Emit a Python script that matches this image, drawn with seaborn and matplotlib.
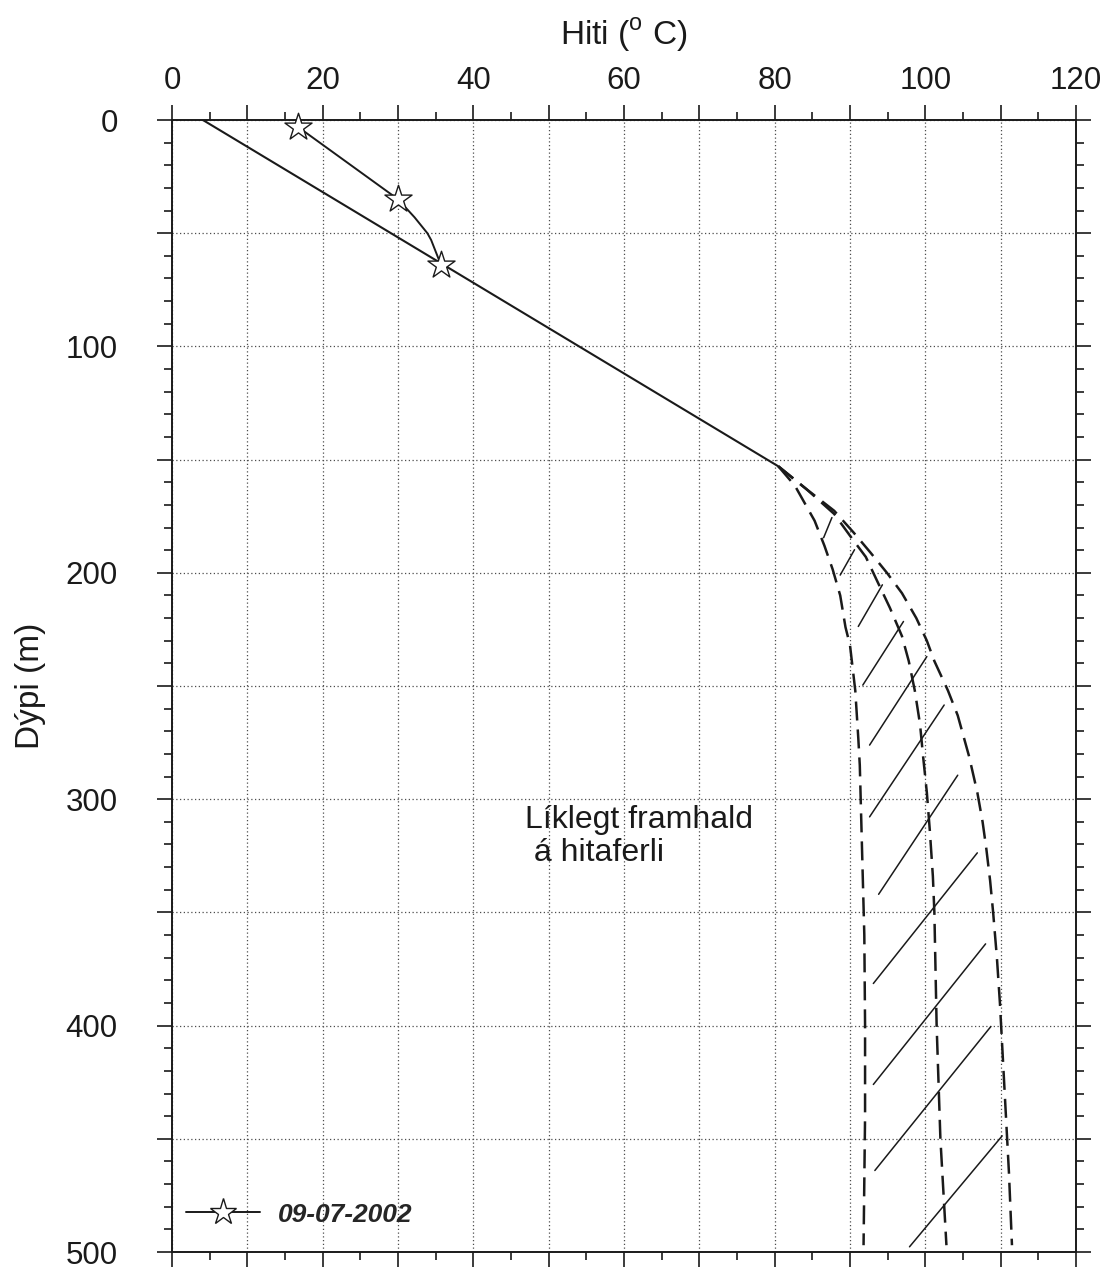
import numpy as np
import pandas as pd
import matplotlib
matplotlib.use('Agg')
import matplotlib.pyplot as plt
from matplotlib.ticker import MultipleLocator, FuncFormatter
from matplotlib.lines import Line2D
import seaborn as sns

# measured profile 09-07-2002 (stars at index 0, 1 and 5)
meas_temp = [16.7, 30.0, 32.2, 33.9, 34.4, 35.7]
meas_depth = [3, 35, 43, 50, 53, 64]
star_idx = [0, 1, 5]
meas_label = '09-07-2002'

# straight gradient line
grad_temp = [4.1, 80.5]
grad_depth = [0, 153]

# likely continuation - three dashed curves
left_temp = [80.5, 82.7, 85.3, 86.6, 87.7, 88.7, 89.4, 90.0, 90.7, 91.1, 91.3, 91.5, 91.7, 91.9, 92.0, 92.0, 91.8]
left_depth = [153, 161.6, 177, 188, 198.5, 210, 224, 232, 252, 273, 285, 310, 335, 360, 400, 440, 497]

mid_temp = [80.5, 84.2, 87.9, 90.3, 92.1, 93.8, 95.3, 96.9, 97.8, 98.6, 99.3, 99.7, 100.2, 100.6, 101.0, 101.2, 101.5, 102.0, 102.8]
mid_depth = [153, 163, 174, 185, 193, 205, 215.5, 228, 239, 252, 267, 281, 297, 314, 334, 350, 400, 450, 497]

right_temp = [80.5, 84.2, 87.9, 90.5, 92.7, 94.9, 96.9, 98.8, 100.2, 101.2, 103.0, 104.3, 105.8, 106.9, 107.6, 108.1, 108.6, 109.0, 109.5, 109.9, 110.3, 110.7, 111.1, 111.5]
right_depth = [153, 163, 172.6, 182.3, 191, 200, 209, 220, 230, 239, 252, 263, 281, 297, 310, 322, 336, 350, 370, 390, 415, 440, 465, 497]

# hatch strokes (start / end)
hatch_x0 = [86.5, 88.7, 91.1, 91.7, 92.6, 92.6, 93.8, 93.1, 93.1, 93.3, 97.9]
hatch_d0 = [184.5, 201, 223.7, 249.6, 276.1, 307.8, 342, 381.4, 426, 464, 497.7]
hatch_x1 = [87.6, 90.6, 94.3, 97.1, 100.2, 102.5, 104.3, 106.9, 108.0, 108.7, 110.2]
hatch_d1 = [175.6, 189.8, 205.3, 221.5, 237, 258.4, 289.4, 323.7, 363.9, 400.4, 448.7]

note_text = 'Líklegt framhald\n á hitaferli'

sns.set_theme(style='white')
plt.rcParams['font.family'] = ['Liberation Sans', 'DejaVu Sans']
plt.rcParams['mathtext.fontset'] = 'custom'
plt.rcParams['mathtext.rm'] = 'Liberation Sans'

ink = '#1a1a1a'

fig = plt.figure(figsize=(11.09, 12.69), dpi=100)
ax = fig.add_axes([172 / 1109, 1 - 1252 / 1269, 904 / 1109, 1132 / 1269])

# measured line + stars
sns.lineplot(x=meas_temp, y=meas_depth, sort=False, estimator=None, color=ink, lw=1.4, ax=ax)
sns.scatterplot(x=[meas_temp[i] for i in star_idx], y=[meas_depth[i] for i in star_idx],
                marker='*', s=420, facecolor='white', edgecolor=ink, linewidth=1.0,
                zorder=5, clip_on=False, ax=ax)

sns.lineplot(x=grad_temp, y=grad_depth, sort=False, estimator=None, color=ink, lw=1.5, ax=ax)

for t, d in [(left_temp, left_depth), (mid_temp, mid_depth), (right_temp, right_depth)]:
    sns.lineplot(x=t, y=d, sort=False, estimator=None, color=ink, lw=1.8,
                 linestyle=(0, (7.6, 3.6)), ax=ax)

hatch = pd.DataFrame({
    'seg': list(range(len(hatch_x0))) * 2,
    'x': hatch_x0 + hatch_x1,
    'd': hatch_d0 + hatch_d1,
})
sns.lineplot(data=hatch, x='x', y='d', units='seg', estimator=None, sort=False,
             color=ink, lw=1.1, ax=ax)

ax.text(46.9, 302.5, note_text, fontsize=23, color=ink, ha='left', va='top', linespacing=1.12)

ax.set_xlim(0, 120)
ax.set_ylim(500, 0)

ax.xaxis.set_major_locator(MultipleLocator(10))
ax.xaxis.set_minor_locator(MultipleLocator(5))
ax.yaxis.set_major_locator(MultipleLocator(50))
ax.yaxis.set_minor_locator(MultipleLocator(10))
ax.xaxis.set_major_formatter(FuncFormatter(lambda v, p: f'{v:.0f}' if round(v) % 20 == 0 else ''))
ax.yaxis.set_major_formatter(FuncFormatter(lambda v, p: f'{v:.0f}' if round(v) % 100 == 0 else ''))

ax.tick_params(axis='x', which='both', top=True, bottom=True, labeltop=True, labelbottom=False,
               direction='out', color=ink, labelcolor=ink, labelsize=22.5, width=1.2)
ax.tick_params(axis='x', which='major', length=10.5, pad=7)
ax.tick_params(axis='x', which='minor', length=5.5)
ax.tick_params(axis='y', which='both', left=True, right=True, labelleft=True, labelright=False,
               direction='out', color=ink, labelcolor=ink, labelsize=22.5, width=1.2)
ax.tick_params(axis='y', which='major', length=11, pad=28)
ax.tick_params(axis='y', which='minor', length=6)

ax.grid(True, which='major', color='#4d4d4d', linestyle=(0, (1, 2)), lw=0.9)
for s in ax.spines.values():
    s.set_visible(True)
    s.set_color(ink)
    s.set_linewidth(1.4)

ax.xaxis.set_label_position('top')
ax.set_xlabel(r'Hiti ($^{\mathrm{o}}$ C)', fontsize=24, color=ink, labelpad=15)
ax.set_ylabel('Dýpi (m)', fontsize=24, color=ink, labelpad=14)

handle = Line2D([0], [0], color=ink, lw=1.4, marker='*', markersize=20,
                markerfacecolor='white', markeredgecolor=ink, markeredgewidth=1.0)
ax.legend([handle], [meas_label], loc='center left', bbox_to_anchor=(0.0155, 0.033),
          frameon=False, borderpad=0, borderaxespad=0, handlelength=2.8, handletextpad=0.7,
          numpoints=1, prop={'size': 19, 'weight': 'bold', 'style': 'italic'})

fig.savefig('out.png', dpi=100)
